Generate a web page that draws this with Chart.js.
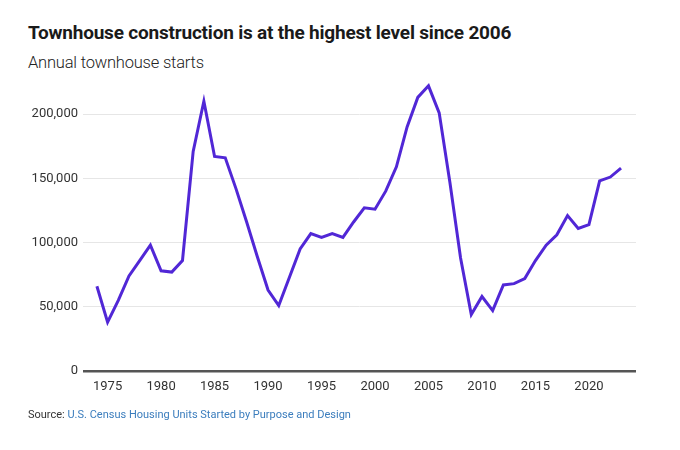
<!DOCTYPE html>
<html>
<head>
<meta charset="utf-8">
<script src="https://cdn.jsdelivr.net/npm/chart.js@4/dist/chart.umd.min.js"></script>
<style>
  html, body { margin: 0; padding: 0; background: #fff; }
  body { width: 680px; height: 450px; position: relative; overflow: hidden; font-family: Roboto, "Liberation Sans", sans-serif; }
  #titulo { position: absolute; left: 28px; top: 21px; font-size: 19px; font-weight: 700; color: #1a1a1a; letter-spacing: -0.2px; }
  #subtitulo { position: absolute; left: 28px; top: 53px; font-size: 16.5px; font-weight: 300; color: #222; letter-spacing: -0.2px; }
  #fuente { position: absolute; left: 28px; top: 408px; font-size: 11px; color: #333; }
  #fuente a { color: #3b7dbd; text-decoration: none; }
  #caja { position: absolute; left: 0; top: 0; width: 680px; height: 450px; }
</style>
</head>
<body>
<div id="titulo">Townhouse construction is at the highest level since 2006</div>
<div id="subtitulo">Annual townhouse starts</div>
<div id="caja"><canvas id="graficaCasas"></canvas></div>
<div id="fuente">Source: <a href="#">U.S. Census Housing Units Started by Purpose and Design</a></div>

<script>
// Años y arranques anuales
const anios = [
  1974, 1975, 1976, 1977, 1978, 1979, 1980, 1981, 1982, 1983,
  1984, 1985, 1986, 1987, 1988, 1989, 1990, 1991, 1992, 1993,
  1994, 1995, 1996, 1997, 1998, 1999, 2000, 2001, 2002, 2003,
  2004, 2005, 2006, 2007, 2008, 2009, 2010, 2011, 2012, 2013,
  2014, 2015, 2016, 2017, 2018, 2019, 2020, 2021, 2022, 2023
];
const arranques = [
  66000, 38000, 55000, 74000, 86000, 98000, 78000, 77000, 86000, 171000,
  210000, 167000, 166000, 142000, 116000, 89000, 63000, 51000, 73000, 95000,
  107000, 104000, 107000, 104000, 116000, 127000, 126000, 140000, 159000, 190000,
  213000, 222000, 201000, 147000, 88000, 44000, 58000, 47000, 67000, 68000,
  72000, 86000, 98000, 106000, 121000, 111000, 114000, 148000, 151000, 158000
];
const ticksX = [1975, 1980, 1985, 1990, 1995, 2000, 2005, 2010, 2015, 2020];
const ticksY = [0, 50000, 100000, 150000, 200000];

const puntos = anios.map((a, i) => ({ x: a, y: arranques[i] }));

const ctx = document.getElementById('graficaCasas').getContext('2d');

new Chart(ctx, {
  type: 'line',
  data: {
    datasets: [{
      label: 'Annual townhouse starts',
      data: puntos,
      borderColor: '#5127d6',
      borderWidth: 3,
      pointRadius: 0,
      tension: 0,
      fill: false
    }]
  },
  options: {
    responsive: true,
    maintainAspectRatio: false,
    animation: false,
    layout: { padding: { left: 28, top: 82, right: 44, bottom: 49 } },
    plugins: {
      legend: { display: false },
      tooltip: { enabled: false }
    },
    scales: {
      x: {
        type: 'linear',
        min: 1972.7,
        max: 2024.4,
        afterBuildTicks: (scale) => { scale.ticks = ticksX.map(v => ({ value: v })); },
        afterFit: (scale) => { scale.height = 30; },
        grid: { display: false, drawTicks: false },
        border: { display: false },
        ticks: {
          padding: 8,
          color: '#333',
          font: { family: 'Roboto', size: 13 },
          callback: (v) => String(v)
        }
      },
      y: {
        min: 0,
        max: 225000,
        afterBuildTicks: (scale) => { scale.ticks = ticksY.map(v => ({ value: v })); },
        afterFit: (scale) => { scale.width = 55; },
        grid: {
          drawTicks: false,
          lineWidth: (c) => c.tick && c.tick.value === 0 ? 2.5 : 1,
          color: (c) => c.tick && c.tick.value === 0 ? '#555' : '#e6e6e6'
        },
        border: { display: false },
        ticks: {
          padding: 5,
          color: '#333',
          font: { family: 'Roboto', size: 13 },
          callback: (v) => v.toLocaleString('en-US')
        }
      }
    }
  }
});
</script>
</body>
</html>
